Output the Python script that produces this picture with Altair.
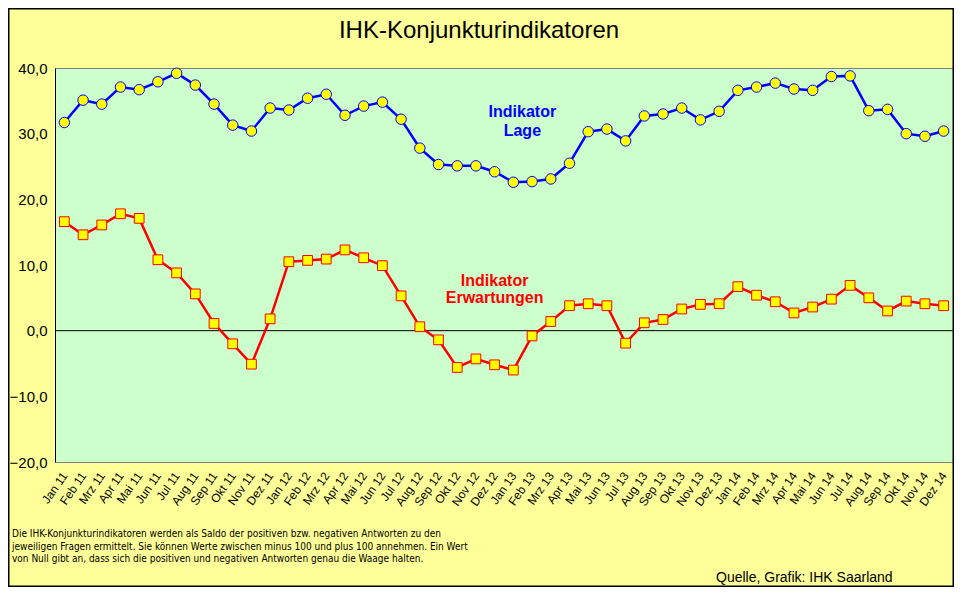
import altair as alt
import pandas as pd

months = ["Jan 11", "Feb 11", "Mrz 11", "Apr 11", "Mai 11", "Jun 11", "Jul 11", "Aug 11", "Sep 11", "Okt 11", "Nov 11", "Dez 11",
          "Jan 12", "Feb 12", "Mrz 12", "Apr 12", "Mai 12", "Jun 12", "Jul 12", "Aug 12", "Sep 12", "Okt 12", "Nov 12", "Dez 12",
          "Jan 13", "Feb 13", "Mrz 13", "Apr 13", "Mai 13", "Jun 13", "Jul 13", "Aug 13", "Sep 13", "Okt 13", "Nov 13", "Dez 13",
          "Jan 14", "Feb 14", "Mrz 14", "Apr 14", "Mai 14", "Jun 14", "Jul 14", "Aug 14", "Sep 14", "Okt 14", "Nov 14", "Dez 14"]

lage = [31.7, 35.1, 34.5, 37.1, 36.7, 37.9, 39.2, 37.4, 34.5, 31.3, 30.4, 33.9,
        33.6, 35.4, 36.0, 32.8, 34.2, 34.8, 32.2, 27.8, 25.3, 25.1, 25.1, 24.2,
        22.6, 22.7, 23.1, 25.5, 30.3, 30.7, 28.9, 32.7, 33.0, 33.9, 32.1, 33.4,
        36.6, 37.1, 37.7, 36.8, 36.6, 38.7, 38.8, 33.5, 33.7, 30.0, 29.6, 30.4]

erwartungen = [16.6, 14.6, 16.1, 17.8, 17.1, 10.8, 8.8, 5.6, 1.1, -2.0, -5.1, 1.8,
               10.5, 10.7, 10.9, 12.3, 11.1, 9.9, 5.3, 0.6, -1.4, -5.6, -4.3, -5.2,
               -6.0, -0.8, 1.4, 3.8, 4.1, 3.8, -1.9, 1.2, 1.7, 3.3, 4.0, 4.1,
               6.7, 5.4, 4.4, 2.7, 3.6, 4.8, 6.9, 5.0, 3.0, 4.5, 4.1, 3.8]

y_ticks = [-20, -10, 0, 10, 20, 30, 40]

lage_label_month = ["Jan 13", "Jan 13"]
lage_label_value = [33.3, 30.4]
lage_label_text = ["Indikator", "Lage"]

erw_label_month = ["Dez 12", "Dez 12"]
erw_label_value = [7.6, 4.9]
erw_label_text = ["Indikator", "Erwartungen"]

title_text = "IHK-Konjunkturindikatoren"
note_lines = [
    "Die IHK-Konjunkturindikatoren werden als Saldo der positiven bzw. negativen Antworten zu den",
    "jeweiligen Fragen ermittelt. Sie können Werte zwischen minus 100 und plus 100 annehmen. Ein Wert",
    "von Null gibt an, dass sich die positiven und negativen Antworten genau die Waage halten.",
]
source_text = "Quelle, Grafik: IHK  Saarland"

W, H = 898, 394
NOTE_FONT = "DejaVu Sans Condensed, Liberation Sans Narrow, Arial Narrow, Liberation Sans, sans-serif"

df = pd.DataFrame({"Monat": months, "Lage": lage, "Erwartungen": erwartungen})

yscale = alt.Scale(domain=[-20, 40], nice=False, zero=False)
yaxis = alt.Axis(title=None, values=y_ticks, labelExpr="replace(format(datum.value, '.1f'), '.', ',')",
                 ticks=False, grid=False, domainColor="black", domainWidth=1, labelFontSize=15,
                 labelPadding=8, labelColor="black", labelBaseline="middle")
xscale = alt.Scale(type="point", padding=0.5)
xaxis = alt.Axis(title=None, labelAngle=-55, labelAlign="right", labelBaseline="middle", labelFontSize=12,
                 labelPadding=11, ticks=False, domain=False, grid=False, labelColor="black", labelOverlap=False)

def X():
    return alt.X("Monat:N", sort=months, scale=xscale, axis=xaxis)

def Y(field):
    return alt.Y(field, type="quantitative", scale=yscale, axis=yaxis)

base = alt.Chart(df)

zero = alt.Chart(pd.DataFrame({"v": [0]})).mark_rule(color="black", strokeWidth=1).encode(y=Y("v"))

lage_line = base.mark_line(color="#0000FF", strokeWidth=2.5).encode(x=X(), y=Y("Lage"))
lage_pts = base.mark_point(shape="circle", filled=True, fill="#FFFF00", stroke="#0000FF",
                           strokeWidth=1, size=110, opacity=1).encode(x=X(), y=Y("Lage"))
erw_line = base.mark_line(color="#FF0000", strokeWidth=2.5).encode(x=X(), y=Y("Erwartungen"))
erw_pts = base.mark_point(shape="square", filled=True, fill="#FFFF00", stroke="#FF0000",
                          strokeWidth=1, size=95, opacity=1).encode(x=X(), y=Y("Erwartungen"))

lage_lbl = alt.Chart(pd.DataFrame({"Monat": lage_label_month, "v": lage_label_value, "t": lage_label_text})).mark_text(
    color="#0000FF", fontWeight="bold", fontSize=16, dx=9, baseline="middle").encode(x=X(), y=Y("v"), text="t:N")
erw_lbl = alt.Chart(pd.DataFrame({"Monat": erw_label_month, "v": erw_label_value, "t": erw_label_text})).mark_text(
    color="#FF0000", fontWeight="bold", fontSize=16, baseline="middle").encode(x=X(), y=Y("v"), text="t:N")

one = pd.DataFrame({"a": [0]})
border = alt.Chart(one).mark_rect(fillOpacity=0, stroke="black", strokeWidth=1.5).encode(
    x=alt.value(-46.25), x2=alt.value(W + 0.25), y=alt.value(-59.25), y2=alt.value(H + 124.25))

title = alt.Chart(one).mark_text(text=title_text, fontSize=24, color="black", align="center",
                                 baseline="alphabetic").encode(x=alt.value(424), y=alt.value(-30))

notes_layers = []
for i, line in enumerate(note_lines):
    notes_layers.append(alt.Chart(one).mark_text(text=line, fontSize=10, font=NOTE_FONT,
                                                 align="left", baseline="alphabetic", color="black").encode(
        x=alt.value(-43), y=alt.value(469 + 12.5 * i)))

source = alt.Chart(one).mark_text(text=source_text, fontSize=14, align="left", baseline="alphabetic",
                                  color="black").encode(x=alt.value(661), y=alt.value(514))

chart = alt.layer(zero, lage_line, lage_pts, erw_line, erw_pts, lage_lbl, erw_lbl,
                  title, *notes_layers, source, border).properties(
    width=W, height=H,
    autosize=alt.AutoSizeParams(type="none"),
    padding={"left": 47, "top": 60, "right": 1, "bottom": 125},
).configure(background="#FFFF99", font="Liberation Sans").configure_view(
    fill="#CCFFCC", stroke="#808080", strokeWidth=1)

chart.save("out.html", embed_options={"renderer": "svg", "actions": False})
